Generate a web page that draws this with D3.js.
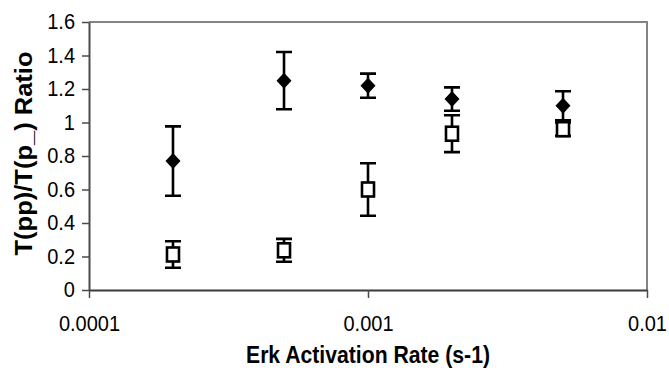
<!DOCTYPE html>
<html>
<head>
<meta charset="utf-8">
<script src="https://cdn.jsdelivr.net/npm/d3@7/dist/d3.min.js"></script>
<style>
  html, body { margin: 0; padding: 0; background: #fff; }
  svg { display: block; }
  text { font-family: "Liberation Sans", Arial, sans-serif; fill: #000; }
</style>
</head>
<body>
<svg id="chart" width="669" height="379"></svg>
<script>
// Erk activation rates (s-1) sampled
const rates = [0.0002, 0.0005, 0.001, 0.002, 0.005];

// Filled diamonds: mean ratio and error half-width
const diamondMeans = [0.77, 1.25, 1.22, 1.14, 1.10];
const diamondErrors = [0.207, 0.171, 0.072, 0.07, 0.087];

// Open squares: mean ratio and error half-width
const squareMeans = [0.212, 0.237, 0.60, 0.933, 0.96];
const squareErrors = [0.079, 0.068, 0.157, 0.11, 0.04];

// Axis ticks
const xTicks = [0.0001, 0.001, 0.01];
const xTickLabels = ["0.0001", "0.001", "0.01"];
const yTicks = [0, 0.2, 0.4, 0.6, 0.8, 1, 1.2, 1.4, 1.6];
const yTickLabels = ["0", "0.2", "0.4", "0.6", "0.8", "1", "1.2", "1.4", "1.6"];

const xTitle = "Erk Activation Rate (s-1)";
const yTitle = "T(pp)/T(p_) Ratio";

const svg = d3.select("#chart");
const plotLeft = 89, plotRight = 647, plotTop = 22, plotBottom = 290;

const x = d3.scaleLog().domain([0.0001, 0.01]).range([plotLeft, plotRight]);
const y = d3.scaleLinear().domain([0, 1.6]).range([plotBottom, plotTop]);

// slightly condensed lettering: squeeze each label's natural width
function condense(sel, factor) {
  sel.each(function () {
    const w = this.getComputedTextLength();
    d3.select(this)
      .attr("textLength", w * factor)
      .attr("lengthAdjust", "spacingAndGlyphs");
  });
}

// plot frame: grey top and right edges
svg.append("path")
  .attr("d", `M${plotLeft},${plotTop}H${plotRight}V${plotBottom}`)
  .attr("fill", "none")
  .attr("stroke", "#848484")
  .attr("stroke-width", 2);

// y axis
const yAxis = svg.append("g")
  .attr("transform", `translate(${plotLeft},0)`)
  .call(d3.axisLeft(y)
    .tickValues(yTicks)
    .tickFormat((d, i) => yTickLabels[i])
    .tickSize(7)
    .tickSizeOuter(0)
    .tickPadding(7));
yAxis.select(".domain").attr("stroke", "#4a4a4a").attr("stroke-width", 2);
yAxis.selectAll(".tick line").attr("stroke", "#4a4a4a").attr("stroke-width", 1.5);
yAxis.selectAll(".tick text")
  .style("font-family", "'Liberation Sans', Arial, sans-serif")
  .style("font-size", "21.5px")
  .attr("fill", "#000")
  .call(condense, 0.93);

// x axis
const xAxis = svg.append("g")
  .attr("transform", `translate(0,${plotBottom})`)
  .call(d3.axisBottom(x)
    .tickValues(xTicks)
    .tickFormat((d, i) => xTickLabels[i])
    .tickSize(8)
    .tickSizeOuter(0)
    .tickPadding(18));
xAxis.select(".domain").attr("stroke", "#3a3a3a").attr("stroke-width", 2);
xAxis.selectAll(".tick line").attr("stroke", "#4a4a4a").attr("stroke-width", 1.5);
xAxis.selectAll(".tick text")
  .style("font-family", "'Liberation Sans', Arial, sans-serif")
  .style("font-size", "21.5px")
  .attr("fill", "#000")
  .call(condense, 0.93);

// axis titles
svg.append("text")
  .attr("x", (plotLeft + plotRight) / 2)
  .attr("y", 363)
  .attr("text-anchor", "middle")
  .style("font-size", "23px")
  .style("font-weight", "bold")
  .attr("textLength", 244)
  .attr("lengthAdjust", "spacingAndGlyphs")
  .text(xTitle);

svg.append("text")
  .attr("transform", `translate(32,${(52 + 255) / 2}) rotate(-90)`)
  .attr("text-anchor", "middle")
  .style("font-size", "23px")
  .style("font-weight", "bold")
  .attr("textLength", 204)
  .attr("lengthAdjust", "spacingAndGlyphs")
  .text(yTitle);

// error bars
function errorBars(means, errs) {
  const g = svg.append("g")
    .attr("stroke", "#000")
    .attr("stroke-width", 2.6)
    .attr("fill", "none");
  rates.forEach((r, i) => {
    const cx = x(r);
    const y1 = y(means[i] + errs[i]);
    const y0 = y(means[i] - errs[i]);
    g.append("path")
      .attr("d", `M${cx},${y1}V${y0}M${cx - 8},${y1}H${cx + 8}M${cx - 8},${y0}H${cx + 8}`);
  });
}
errorBars(diamondMeans, diamondErrors);
errorBars(squareMeans, squareErrors);

// filled diamonds
svg.append("g").selectAll("path")
  .data(rates.map((r, i) => [r, diamondMeans[i]]))
  .join("path")
  .attr("transform", d => `translate(${x(d[0])},${y(d[1])})`)
  .attr("d", "M0,-8L7.5,0L0,8L-7.5,0Z")
  .attr("fill", "#000");

// open squares
svg.append("g").selectAll("rect")
  .data(rates.map((r, i) => [r, squareMeans[i]]))
  .join("rect")
  .attr("x", d => x(d[0]) - 6)
  .attr("y", d => y(d[1]) - 7)
  .attr("width", 12)
  .attr("height", 14)
  .attr("fill", "#fff")
  .attr("stroke", "#000")
  .attr("stroke-width", 2.6);
</script>
</body>
</html>
